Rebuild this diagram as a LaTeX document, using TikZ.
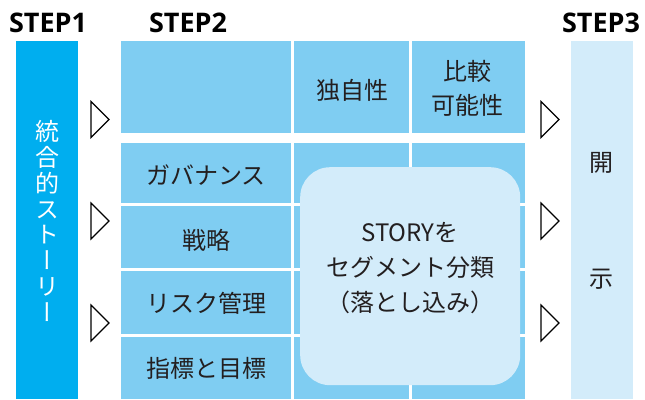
\documentclass[tikz,border=0pt]{standalone}
\usepackage{fontspec}
\setmainfont{Noto Sans}
\newfontfamily\jp{Noto Sans CJK JP}
\newfontfamily\jpv[RawFeature=+vert]{Noto Sans CJK JP}
\newfontfamily\stepfont{Open Sans}
\definecolor{cStepOne}{RGB}{0,174,239}
\definecolor{cCell}{RGB}{127,205,242}
\definecolor{cLight}{RGB}{211,236,250}
\definecolor{cText}{RGB}{35,31,32}
\tikzset{
  steplabel/.style={font=\stepfont\bfseries\fontsize{27}{30}\selectfont, text=black, inner sep=0pt},
  cell/.style={fill=cCell, draw=none, anchor=north west, inner sep=0pt, text=cText,
    font=\jp\fontsize{24}{34}\selectfont, align=center},
  colbox/.style={draw=none, anchor=north west, inner sep=0pt},
  tri/.pic={\draw[line width=1.2pt, line join=miter, fill=white] (0,-18) -- (18,0) -- (0,18) -- cycle;}
}
\begin{document}
\begin{tikzpicture}[x=1pt,y=-1pt]
\useasboundingbox (0,0) rectangle (645,399);
% step labels
\node[steplabel] (s1) at (48,23) {STEP1};
\node[steplabel] (s2) at (188,23) {STEP2};
\node[steplabel] (s3) at (601,23) {STEP3};
% STEP1 column
\node[colbox, fill=cStepOne, minimum width=62pt, minimum height=358pt] (col1) at (16,41) {};
\node[text=white, font=\jpv\fontsize{24}{25.8}\selectfont, align=center, inner sep=0pt] (vt) at (47,221)
  {統\\合\\的\\ス\\ト\\ー\\リ\\ー};
% STEP3 column
\node[colbox, fill=cLight, minimum width=62pt, minimum height=358pt] (col3) at (571,41) {};
\node[text=cText, font=\jp\fontsize{24}{30}\selectfont, inner sep=0pt] (kai) at (601,163) {開};
\node[text=cText, font=\jp\fontsize{24}{30}\selectfont, inner sep=0pt] (ji) at (601,279) {示};
% top row
\node[cell, minimum width=170pt, minimum height=92pt] (t1) at (121,41) {};
\node[cell, minimum width=115pt, minimum height=92pt] (t2) at (294,41) {};
\node[cell, minimum width=113pt, minimum height=92pt] (t3) at (412,41) {};
\node[text=cText, font=\jp\fontsize{24}{34}\selectfont, inner sep=0pt] (dok) at (352,90) {独自性};
\node[text=cText, font=\jp\fontsize{24}{34}\selectfont, inner sep=0pt, align=center] (hik) at (467,88) {比較\\可能性};
% lower block
\foreach \r/\y/\h in {1/143/60, 2/206/62, 3/271/63, 4/337/62}{
  \node[cell, minimum width=170pt, minimum height=\h pt] (a\r) at (121,\y) {};
  \node[cell, minimum width=115pt, minimum height=\h pt] (b\r) at (294,\y) {};
  \node[cell, minimum width=113pt, minimum height=\h pt] (c\r) at (412,\y) {};
}
\node[text=cText, font=\jp\fontsize{24}{34}\selectfont, inner sep=0pt] (l1) at (206,175) {ガバナンス};
\node[text=cText, font=\jp\fontsize{24}{34}\selectfont, inner sep=0pt] (l2) at (206,240) {戦略};
\node[text=cText, font=\jp\fontsize{24}{34}\selectfont, inner sep=0pt] (l3) at (206,303) {リスク管理};
\node[text=cText, font=\jp\fontsize{24}{34}\selectfont, inner sep=0pt] (l4) at (206,368) {指標と目標};
% rounded box
\node[fill=cLight, rounded corners=30pt, anchor=north west, minimum width=220pt, minimum height=218pt, inner sep=0pt] (story) at (300,167) {};
\node[text=cText, font=\jp\fontsize{24}{35}\selectfont, inner sep=0pt, align=center] (storytxt) at (410,268)
  {STORYを\\セグメント分類\\（落とし込み）};
% triangles
\foreach \y in {119.5,221,323}{
  \pic at (91,\y) {tri};
  \pic at (541,\y) {tri};
}
\end{tikzpicture}
\end{document}
